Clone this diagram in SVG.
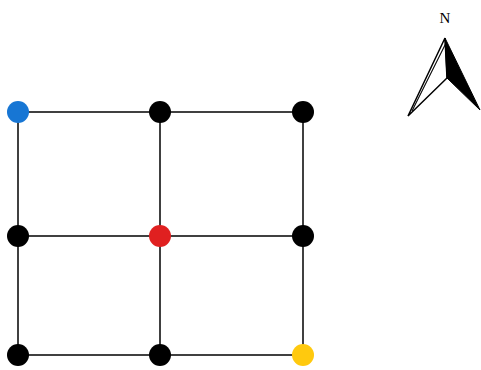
<svg xmlns="http://www.w3.org/2000/svg" width="481" height="370" viewBox="0 0 481 370">
<style>
.e{stroke:#000;stroke-width:1.5;fill:none}
.n{stroke:none}
</style>
<rect width="481" height="370" fill="#fff"/>
<g id="connectors">
<line class="e" x1="18" y1="112" x2="303" y2="112"/>
<line class="e" x1="18" y1="236" x2="303" y2="236"/>
<line class="e" x1="18" y1="355" x2="303" y2="355"/>
<line class="e" x1="18" y1="112" x2="18" y2="355"/>
<line class="e" x1="160" y1="112" x2="160" y2="355"/>
<line class="e" x1="303" y1="112" x2="303" y2="355"/>
</g>
<g id="n1"><circle class="n" cx="18" cy="112" r="11" fill="#1776d4"/></g>
<g id="n2"><circle class="n" cx="160" cy="112" r="11" fill="#000"/></g>
<g id="n3"><circle class="n" cx="303" cy="112" r="11" fill="#000"/></g>
<g id="n4"><circle class="n" cx="18" cy="236" r="11" fill="#000"/></g>
<g id="n5"><circle class="n" cx="160" cy="236" r="11" fill="#e02020"/></g>
<g id="n6"><circle class="n" cx="303" cy="236" r="11" fill="#000"/></g>
<g id="n7"><circle class="n" cx="18" cy="355" r="11" fill="#000"/></g>
<g id="n8"><circle class="n" cx="160" cy="355" r="11" fill="#000"/></g>
<g id="n9"><circle class="n" cx="303" cy="355" r="11" fill="#ffc90e"/></g>
<g id="north">
<text x="445" y="23" font-family="Liberation Serif, serif" font-size="15" text-anchor="middle" fill="#000">N</text>
<polygon points="445,38 408,116 447,78" fill="#fff" stroke="#000" stroke-width="1.5" stroke-linejoin="miter"/>
<polygon points="412,111 446,43" fill="none" stroke="#000" stroke-width="0.8"/>
<polygon points="445,38 447,78 480,110" fill="#000" stroke="#000" stroke-width="1"/>
</g>
</svg>
